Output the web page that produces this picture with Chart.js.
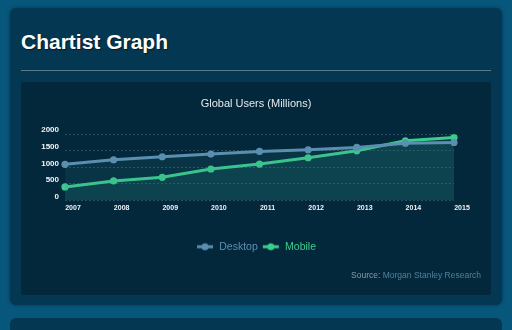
<!DOCTYPE html>
<html>
<head>
<meta charset="utf-8">
<script src="https://cdn.jsdelivr.net/npm/chart.js@4"></script>
<style>
  html, body { margin: 0; padding: 0; }
  body {
    width: 512px; height: 330px; overflow: hidden; position: relative;
    background: #07577d;
    font-family: "Liberation Sans", Arial, sans-serif;
  }
  .card {
    position: absolute; left: 10px; top: 8px; width: 492px; height: 297px;
    background: #043751; border-radius: 6px;
    box-shadow: 0 0 4px rgba(0,0,0,0.35);
  }
  .card2 {
    position: absolute; left: 10px; top: 318px; width: 492px; height: 40px;
    background: #043751; border-radius: 6px;
  }
  h2 {
    position: absolute; left: 11px; top: 23px; margin: 0;
    font-size: 21px; font-weight: bold; color: #ffffff; line-height: 1;
    text-shadow: 1px 1px 1px rgba(0,0,0,0.5);
  }
  .rule {
    position: absolute; left: 11px; top: 62px; width: 470px; height: 1px;
    background: #5a7a8d;
  }
  .inner {
    position: absolute; left: 11px; top: 74px; width: 470px; height: 213px;
    background: #03283b; border-radius: 3px;
  }
  canvas { position: absolute; left: 0; top: 0; }
  .source {
    position: absolute; right: 10px; top: 188px;
    font-size: 8.5px; color: #52809b;
  }
  .source b { font-weight: normal; color: #8b9aa5; }
</style>
</head>
<body>
<div class="card">
  <h2>Chartist Graph</h2>
  <div class="rule"></div>
  <div class="inner">
    <canvas id="grafico" width="470" height="213"></canvas>
    <div class="source"><b>Source:</b> Morgan Stanley Research</div>
  </div>
</div>
<div class="card2"></div>
<script>
const years = ['2007', '2008', '2009', '2010', '2011', '2012', '2013', '2014', '2015'];
const desktop = [1090, 1230, 1320, 1400, 1480, 1530, 1600, 1730, 1750];
const mobile = [410, 590, 700, 950, 1100, 1290, 1500, 1800, 1900];
const yTicks = [0, 500, 1000, 1500, 2000];

const colorDesktop = '#5b8fb0';
const colorMobile = '#3ccc8d';

// little line + dot symbol for the legend
function legendSymbol(color) {
  const c = document.createElement('canvas');
  c.width = 18; c.height = 10;
  const g = c.getContext('2d');
  g.strokeStyle = color; g.lineWidth = 3;
  g.beginPath(); g.moveTo(1, 5); g.lineTo(17, 5); g.stroke();
  g.fillStyle = color;
  g.beginPath(); g.arc(9, 5, 3.5, 0, Math.PI * 2); g.fill();
  return c;
}

const ctx = document.getElementById('grafico').getContext('2d');

const myChart = new Chart(ctx, {
  type: 'line',
  data: {
    labels: years,
    datasets: [{
      label: 'Desktop',
      data: desktop,
      borderColor: colorDesktop,
      backgroundColor: 'rgba(45,140,150,0.13)',
      pointBackgroundColor: colorDesktop,
      pointBorderWidth: 0,
      borderWidth: 3,
      pointRadius: 3.6,
      fill: 'origin',
      tension: 0
    }, {
      label: 'Mobile',
      data: mobile,
      borderColor: colorMobile,
      backgroundColor: 'rgba(50,170,150,0.12)',
      pointBackgroundColor: colorMobile,
      pointBorderWidth: 0,
      borderWidth: 3,
      pointRadius: 3.6,
      fill: 'origin',
      tension: 0
    }]
  },
  options: {
    responsive: false,
    animation: false,
    devicePixelRatio: 1,
    layout: { padding: { left: 0, right: 0, top: 0, bottom: 33 } },
    plugins: {
      title: {
        display: true,
        text: 'Global Users (Millions)',
        color: '#e4e9ec',
        font: { family: 'Liberation Sans', size: 11, weight: 'normal' },
        padding: { top: 15, bottom: 24 }
      },
      legend: {
        position: 'bottom',
        labels: {
          usePointStyle: true,
          pointStyleWidth: 18,
          padding: 4,
          font: { family: 'Liberation Sans', size: 10.5 },
          generateLabels: (chart) => chart.data.datasets.map((ds, i) => ({
            text: ds.label,
            fontColor: ds.borderColor,
            pointStyle: legendSymbol(ds.borderColor),
            fillStyle: ds.borderColor,
            strokeStyle: ds.borderColor,
            lineWidth: 0,
            hidden: false,
            datasetIndex: i
          }))
        }
      },
      tooltip: { enabled: false }
    },
    scales: {
      x: {
        offset: false,
        grid: { display: false, drawTicks: false },
        border: { display: false },
        ticks: {
          color: '#f2f4f5',
          font: { family: 'Liberation Sans', size: 7, weight: 'bold' },
          padding: 3,
          labelOffset: 8,
          maxRotation: 0
        },
        afterFit: (scale) => { scale.height = 37; }
      },
      y: {
        min: 0,
        max: 2000,
        afterBuildTicks: (scale) => { scale.ticks = yTicks.map(v => ({ value: v })); },
        grid: { color: 'rgba(255,255,255,0.17)', drawTicks: false },
        border: { display: false, dash: [2, 2] },
        ticks: {
          color: '#f2f4f5',
          font: { family: 'Liberation Sans', size: 8, weight: 'bold' },
          padding: 6,
          labelOffset: -4,
          callback: (v) => String(v)
        },
        afterFit: (scale) => { scale.width = 44; }
      },
      // empty axis on the right, only to keep the plot narrower than the box
      yRight: {
        position: 'right',
        min: 0,
        max: 2000,
        grid: { display: false, drawTicks: false },
        border: { display: false },
        ticks: { display: false },
        afterFit: (scale) => { scale.width = 37; }
      }
    }
  }
});
</script>
</body>
</html>
